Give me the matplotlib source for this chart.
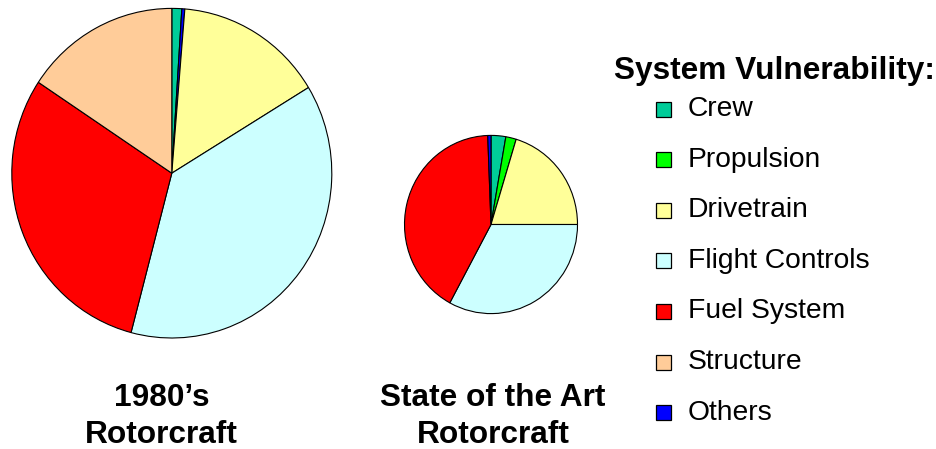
import matplotlib.pyplot as plt
from matplotlib.patches import Rectangle

plt.rcParams["font.family"] = ["Liberation Sans", "DejaVu Sans"]

W, H = 937, 449
SY = 1.03  # slight vertical stretch of the pies

# share of vulnerable area, percent
systems = ["Crew", "Propulsion", "Drivetrain", "Flight Controls",
           "Fuel System", "Structure", "Others"]
colors = ["#00CC99", "#00FF00", "#FFFF99", "#CCFFFF", "#FF0000", "#FFCC99", "#0000FF"]
old_vals = [1.0, 0.0, 15.0, 37.8, 30.2, 15.7, 0.3]
new_vals = [2.75, 1.95, 20.3, 32.9, 41.5, 0.0, 0.6]
# clockwise slice order from 12 o'clock
old_order = ["Crew", "Others", "Drivetrain", "Flight Controls", "Fuel System", "Structure"]
new_order = ["Crew", "Propulsion", "Drivetrain", "Flight Controls", "Fuel System", "Others"]
titles = ["1980\u2019s\nRotorcraft", "State of the Art\nRotorcraft"]

fig = plt.figure(figsize=(W / 100, H / 100), dpi=100)
fig.patch.set_facecolor("white")
ax = fig.add_axes([0, 0, 1, 1])


def draw_pie(vals, order, cx, cy, r):
    lookup = dict(zip(systems, zip(vals, colors)))
    v = [lookup[k][0] for k in order]
    c = [lookup[k][1] for k in order]
    ax.pie(v, colors=c, startangle=90, counterclock=False, radius=r,
           center=(cx, (H - cy) / SY), frame=True,
           wedgeprops=dict(edgecolor="black", linewidth=0.8))


draw_pie(old_vals, old_order, 171.8, 173.2, 160)
draw_pie(new_vals, new_order, 491, 224.5, 86.5)
ax.set_xlim(0, W)
ax.set_ylim(0, H / SY)
ax.set_aspect("auto")
ax.axis("off")

# overlay in pixel coordinates for text and legend
ov = fig.add_axes([0, 0, 1, 1])
ov.set_xlim(0, W); ov.set_ylim(H, 0); ov.axis("off")

for x, t in zip([161.5, 493], titles):
    l1, l2 = t.split("\n")
    ov.text(x, 398, l1, ha="center", va="center", fontsize=22.8, fontweight="bold")
    ov.text(x, 435, l2, ha="center", va="center", fontsize=22.8, fontweight="bold")

ov.text(774, 71, "System Vulnerability:", ha="center", va="center",
        fontsize=22.8, fontweight="bold")
for i, (name, col) in enumerate(zip(systems, colors)):
    y = 109 + i * 50.6
    ov.add_patch(Rectangle((656, y - 7.5), 15, 15, facecolor=col,
                           edgecolor="black", linewidth=0.9))
    ov.text(688, y, name, ha="left", va="center", fontsize=20.3)

fig.savefig("out.png", dpi=100, facecolor="white")
